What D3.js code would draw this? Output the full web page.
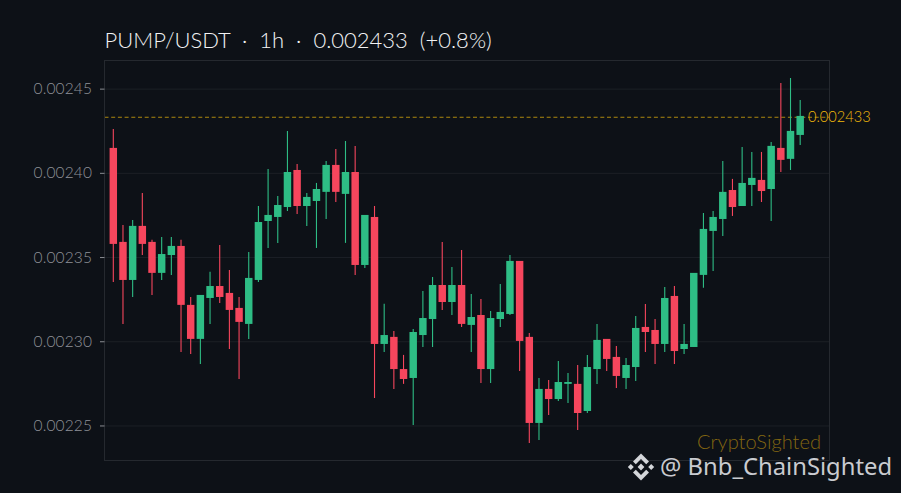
<!DOCTYPE html>
<html>
<head>
<meta charset="utf-8">
<script src="https://cdn.jsdelivr.net/npm/d3@7"></script>
<style>
  html, body { margin: 0; padding: 0; background: #0d1117; }
  svg { display: block; }
  text { font-family: Lato, "Noto Sans", sans-serif; font-weight: 300; white-space: pre; }
  .axis path { display: none; }
  .axis .tick line { stroke: #8b8e93; }
  .axis .tick text { fill: #8f9297; font-size: 15.5px; font-family: Lato, sans-serif; letter-spacing: 0.12px; }
  .grid path { display: none; }
  .grid .tick line { stroke: #1c2026; }
  .grid .tick text { display: none; }
</style>
</head>
<body>
<div id="chart"></div>
<script>
const titleText = "PUMP/USDT  \u00b7  1h  \u00b7  0.002433  (+0.8%)";
const lastPrice = 0.002433;
const lastLabel = "0.002433";
const watermark = "CryptoSighted";
const handle = "@ Bnb_ChainSighted";
const yTicks = [0.00225, 0.0023, 0.00235, 0.0024, 0.00245];

// in candle order
const opens = [
  0.0024148, 0.0023590, 0.0023364, 0.0023685, 0.0023590, 0.0023406, 0.0023512, 0.0023566, 0.0023216, 0.0023014,
  0.0023257, 0.0023328, 0.0023287, 0.0023198, 0.0023103, 0.0023364, 0.0023714, 0.0023738, 0.0023797, 0.0024017,
  0.0023803, 0.0023833, 0.0023887, 0.0024047, 0.0023875, 0.0024005, 0.0023453, 0.0023738, 0.0022984, 0.0023026,
  0.0022835, 0.0022782, 0.0023037, 0.0023132, 0.0023334, 0.0023233, 0.0023334, 0.0023097, 0.0023156, 0.0022835,
  0.0023132, 0.0023162, 0.0023477, 0.0023026, 0.0022515, 0.0022717, 0.0022657, 0.0022747, 0.0022747, 0.0022586,
  0.0022835, 0.0023014, 0.0022907, 0.0022782, 0.0022847, 0.0023085, 0.0023067, 0.0022984, 0.0023269, 0.0022954,
  0.0022966, 0.0023394, 0.0023655, 0.0023726, 0.0023898, 0.0023803, 0.0023928, 0.0023958, 0.0023904, 0.0024148,
  0.0024083, 0.0024225
];
const highs = [
  0.0024261, 0.0023690, 0.0023720, 0.0023881, 0.0023602, 0.0023619, 0.0023619, 0.0023602, 0.0023263, 0.0023275,
  0.0023412, 0.0023572, 0.0023423, 0.0023263, 0.0023530, 0.0023803, 0.0024023, 0.0023863, 0.0024249, 0.0024053,
  0.0023881, 0.0023940, 0.0024071, 0.0024142, 0.0024189, 0.0024160, 0.0023750, 0.0023803, 0.0023222, 0.0023061,
  0.0022919, 0.0023073, 0.0023299, 0.0023382, 0.0023590, 0.0023441, 0.0023542, 0.0023281, 0.0023251, 0.0023180,
  0.0023340, 0.0023512, 0.0023477, 0.0023049, 0.0022782, 0.0022770, 0.0022883, 0.0022812, 0.0022859, 0.0022919,
  0.0023103, 0.0023014, 0.0022972, 0.0022901, 0.0023150, 0.0023221, 0.0023132, 0.0023322, 0.0023328, 0.0023103,
  0.0023406, 0.0023762, 0.0023774, 0.0024071, 0.0023964, 0.0024154, 0.0024124, 0.0024124, 0.0024183, 0.0024534,
  0.0024563, 0.0024433
];
const lows = [
  0.0023352, 0.0023103, 0.0023263, 0.0023512, 0.0023275, 0.0023364, 0.0023394, 0.0022936, 0.0022925, 0.0022865,
  0.0023103, 0.0023227, 0.0022954, 0.0022776, 0.0023014, 0.0023352, 0.0023554, 0.0023584, 0.0023774, 0.0023756,
  0.0023685, 0.0023554, 0.0023726, 0.0023827, 0.0023584, 0.0023394, 0.0023435, 0.0022663, 0.0022936, 0.0022717,
  0.0022747, 0.0022503, 0.0022966, 0.0022966, 0.0023186, 0.0023156, 0.0023085, 0.0022936, 0.0022752, 0.0022752,
  0.0023085, 0.0023156, 0.0022824, 0.0022396, 0.0022414, 0.0022562, 0.0022645, 0.0022634, 0.0022473, 0.0022574,
  0.0022746, 0.0022824, 0.0022723, 0.0022717, 0.0022764, 0.0022936, 0.0022865, 0.0022936, 0.0022865, 0.0022925,
  0.0022966, 0.0023317, 0.0023417, 0.0023625, 0.0023744, 0.0023803, 0.0023803, 0.0023827, 0.0023714, 0.0024005,
  0.0024017, 0.0024166
];
const closes = [
  0.0023578, 0.0023364, 0.0023685, 0.0023578, 0.0023406, 0.0023518, 0.0023566, 0.0023216, 0.0023014, 0.0023275,
  0.0023328, 0.0023263, 0.0023186, 0.0023115, 0.0023376, 0.0023708, 0.0023750, 0.0023809, 0.0024005, 0.0023803,
  0.0023857, 0.0023904, 0.0024047, 0.0023887, 0.0024005, 0.0023453, 0.0023750, 0.0022984, 0.0023037, 0.0022835,
  0.0022776, 0.0023055, 0.0023138, 0.0023334, 0.0023233, 0.0023334, 0.0023103, 0.0023144, 0.0022835, 0.0023138,
  0.0023174, 0.0023477, 0.0023002, 0.0022515, 0.0022717, 0.0022657, 0.0022758, 0.0022758, 0.0022574, 0.0022847,
  0.0023008, 0.0022895, 0.0022794, 0.0022859, 0.0023079, 0.0023055, 0.0022984, 0.0023257, 0.0022942, 0.0022984,
  0.0023406, 0.0023667, 0.0023738, 0.0023887, 0.0023797, 0.0023940, 0.0023970, 0.0023892, 0.0024160, 0.0024077,
  0.0024249, 0.0024338
];

const width = 901, height = 493;
const margin = { top: 60.5, right: 71.5, bottom: 32.5, left: 104.5 };
const upColor = "#2ebd85", downColor = "#f6465d", gold = "#f0b90b";

const svg = d3.select("#chart").append("svg")
  .attr("width", width)
  .attr("height", height);

const x = d3.scaleLinear()
  .domain([-0.91, 74.03])
  .range([margin.left, width - margin.right]);

const y = d3.scaleLinear()
  .domain([0.0022292, 0.0024667])
  .range([height - margin.bottom, margin.top]);

// horizontal grid
svg.append("g")
  .attr("class", "grid")
  .attr("transform", `translate(${margin.left},0)`)
  .call(d3.axisRight(y).tickValues(yTicks).tickSize(width - margin.left - margin.right));

// last price line, runs the full width of the plot
svg.append("line")
  .attr("x1", margin.left)
  .attr("x2", width - margin.right)
  .attr("y1", y(lastPrice))
  .attr("y2", y(lastPrice))
  .attr("stroke", gold)
  .attr("stroke-opacity", 0.7)
  .attr("stroke-width", 1)
  .attr("stroke-dasharray", "4,2.7");

const candles = d3.range(opens.length);

svg.append("g").selectAll("line")
  .data(candles)
  .join("line")
  .attr("x1", i => x(i))
  .attr("x2", i => x(i))
  .attr("y1", i => y(highs[i]))
  .attr("y2", i => y(lows[i]))
  .attr("stroke", i => closes[i] >= opens[i] ? upColor : downColor)
  .attr("stroke-width", 1.1);

const bodyW = 0.77 * (x(1) - x(0));
svg.append("g").selectAll("rect")
  .data(candles)
  .join("rect")
  .attr("x", i => x(i) - bodyW / 2)
  .attr("width", bodyW)
  .attr("y", i => y(Math.max(opens[i], closes[i])))
  .attr("height", i => Math.abs(y(opens[i]) - y(closes[i])))
  .attr("fill", i => closes[i] >= opens[i] ? upColor : downColor);

// frame
svg.append("rect")
  .attr("x", margin.left)
  .attr("y", margin.top)
  .attr("width", width - margin.left - margin.right)
  .attr("height", height - margin.top - margin.bottom)
  .attr("fill", "none")
  .attr("stroke", "#25292f")
  .attr("stroke-width", 1);

svg.append("g")
  .attr("class", "axis")
  .attr("transform", `translate(${margin.left},0)`)
  .call(d3.axisLeft(y).tickValues(yTicks).tickSize(4.5).tickPadding(8).tickFormat(d3.format(".5f")));

svg.append("text")
  .attr("x", 104.5)
  .attr("y", 48)
  .attr("fill", "#f2f3f4")
  .attr("font-size", 22)
  .text(titleText);

svg.append("text")
  .attr("x", 808)
  .attr("y", y(lastPrice) + 5)
  .attr("fill", gold)
  .attr("font-size", 14.6)
  .text(lastLabel);

svg.append("text")
  .attr("x", 821)
  .attr("y", 449)
  .attr("text-anchor", "end")
  .attr("fill", gold)
  .attr("fill-opacity", 0.52)
  .attr("font-size", 20.1)
  .text(watermark);

// exchange logo next to the handle
const logo = svg.append("g")
  .attr("transform", "translate(641,467)")
  .attr("fill", "#d4d6da");
logo.append("path").attr("d", "M0,-3.4L3.4,0L0,3.4L-3.4,0Z");
logo.append("path").attr("d", "M-10.2,-3L-7.2,0L-10.2,3L-13.2,0Z");
logo.append("path").attr("d", "M10.2,-3L13.2,0L10.2,3L7.2,0Z");
logo.append("path").attr("d", "M0,-13.6L8,-5.6L5.2,-2.8L0,-8L-5.2,-2.8L-8,-5.6Z");
logo.append("path").attr("d", "M0,13.6L8,5.6L5.2,2.8L0,8L-5.2,2.8L-8,5.6Z");

svg.append("text")
  .attr("x", 660)
  .attr("y", 475)
  .attr("fill", "#c9cbd0")
  .attr("font-size", 23.8)
  .style("font-family", "'Noto Sans', sans-serif")
  .style("font-weight", 400)
  .text(handle);
</script>
</body>
</html>
